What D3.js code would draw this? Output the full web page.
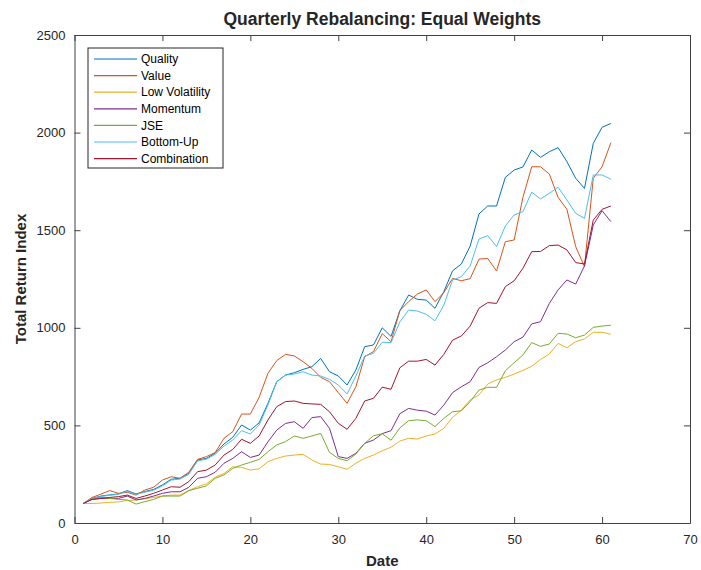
<!DOCTYPE html>
<html lang="en">
<head>
<meta charset="utf-8">
<title>Quarterly Rebalancing: Equal Weights</title>
<script src="https://d3js.org/d3.v7.min.js"></script>
<style>
  body { margin: 0; background: #fff; }
  svg { font-family: "Liberation Sans", Arial, sans-serif; }
  .tick text { font-size: 13px; fill: #262626; }
  .lbl { font-weight: bold; fill: #262626; }
</style>
</head>
<body>
<svg width="701" height="570"></svg>
<script>
// series values, one per quarter (x = 1..61)
var quality = [100,126,138,144,149,166,149,161,172,195,224,229,254,323,331,357,405,439,502,476,
  513,613,724,758,770,787,801,843,775,753,707,784,903,912,1000,956,1087,1168,1146,1142,
  1100,1185,1292,1327,1419,1583,1624,1624,1771,1808,1824,1911,1873,1902,1923,1851,1766,1714,1945,2027,2047];
var value = [100,131,148,166,152,157,143,169,183,220,237,229,260,326,340,361,434,468,558,558,
  644,767,832,864,856,826,792,746,724,668,613,698,852,878,970,929,1088,1134,1173,1194,
  1134,1180,1253,1241,1252,1352,1355,1291,1441,1450,1668,1825,1825,1788,1668,1607,1416,1313,1766,1825,1948];
var lowVol = [100,100,102,106,108,115,118,124,131,138,143,143,166,186,200,235,254,288,285,271,
  278,314,331,343,348,352,323,302,300,288,275,306,331,348,370,388,420,434,430,446,
  456,485,541,579,630,656,712,733,746,763,782,803,838,866,920,898,929,943,977,977,967];
var momentum = [100,121,126,126,126,138,118,126,138,152,160,160,183,229,237,260,306,331,365,336,
  348,416,476,510,519,485,540,545,485,340,331,357,408,425,458,473,560,587,578,573,
  553,604,668,698,724,797,821,852,886,929,952,1020,1031,1125,1194,1245,1224,1317,1527,1600,1544];
var jse = [100,126,131,126,121,118,97,109,121,138,138,138,166,178,190,229,246,280,297,311,
  326,365,400,417,446,434,446,459,362,331,319,353,408,447,457,424,487,524,528,524,
  494,536,570,575,622,681,695,695,780,821,861,924,905,917,972,968,949,963,1002,1009,1013];
var bottomUp = [100,124,136,142,147,163,146,158,168,190,220,225,250,318,327,352,394,425,473,456,
  502,605,724,758,763,775,758,753,736,707,661,753,855,869,926,924,1030,1091,1086,1069,
  1036,1116,1245,1262,1317,1455,1472,1416,1522,1578,1595,1695,1660,1689,1720,1655,1586,1561,1783,1783,1761];
var combination = [100,121,126,131,135,143,126,138,152,169,186,183,212,263,271,297,348,377,429,408,
  446,528,596,622,625,613,610,608,570,511,480,536,625,639,696,685,795,829,829,838,
  809,864,937,958,1009,1100,1129,1125,1211,1241,1305,1390,1391,1421,1424,1399,1334,1327,1552,1607,1624];

var names = ["Quality","Value","Low Volatility","Momentum","JSE","Bottom-Up","Combination"];
var colors = ["#0072BD","#D95319","#EDB120","#7E2F8E","#77AC30","#4DBEEE","#A2142F"];
var allSeries = [quality, value, lowVol, momentum, jse, bottomUp, combination];
var xTicks = [0,10,20,30,40,50,60,70];
var yTicks = [0,500,1000,1500,2000,2500];

var svg = d3.select("svg");
var pLeft = 74.5, pRight = 690, pTop = 35, pBottom = 523;

var x = d3.scaleLinear().domain([0, 70]).range([pLeft, pRight]);
var y = d3.scaleLinear().domain([0, 2500]).range([pBottom, pTop]);

var axisColor = "#404040";

// axes with inward ticks, box on
var gx = svg.append("g").attr("transform", `translate(0,${pBottom})`)
  .call(d3.axisBottom(x).tickValues(xTicks).tickSizeInner(-6).tickSizeOuter(0).tickPadding(9));
var gy = svg.append("g").attr("transform", `translate(${pLeft},0)`)
  .call(d3.axisLeft(y).tickValues(yTicks).tickSizeInner(-6).tickSizeOuter(0).tickPadding(9)
    .tickFormat(d3.format("d")));
var gxt = svg.append("g").attr("transform", `translate(0,${pTop})`)
  .call(d3.axisTop(x).tickValues(xTicks).tickSizeInner(-6).tickSizeOuter(0).tickFormat(""));
var gyr = svg.append("g").attr("transform", `translate(${pRight},0)`)
  .call(d3.axisRight(y).tickValues(yTicks).tickSizeInner(-6).tickSizeOuter(0).tickFormat(""));
[gx, gy, gxt, gyr].forEach(function(g) {
  g.select(".domain").attr("stroke", axisColor).attr("stroke-width", 1);
  g.selectAll(".tick line").attr("stroke", axisColor);
  g.selectAll(".tick text").attr("font-family", "Liberation Sans, Arial, sans-serif");
});
gx.selectAll(".tick text").attr("dy", "0.9em");

var line = d3.line()
  .x(function(d, i) { return x(i + 1); })
  .y(function(d) { return y(d); });

svg.append("g").selectAll("path")
  .data(allSeries)
  .join("path")
  .attr("fill", "none")
  .attr("stroke", function(d, i) { return colors[i]; })
  .attr("stroke-width", 1)
  .attr("d", line);

// title and labels
svg.append("text").attr("class", "lbl")
  .attr("x", (pLeft + pRight) / 2).attr("y", 25)
  .attr("text-anchor", "middle").attr("font-size", "17.5px")
  .text("Quarterly Rebalancing: Equal Weights");
svg.append("text").attr("class", "lbl")
  .attr("x", (pLeft + pRight) / 2).attr("y", 566)
  .attr("text-anchor", "middle").attr("font-size", "15px")
  .text("Date");
svg.append("text").attr("class", "lbl")
  .attr("transform", `translate(26,${(pTop + pBottom) / 2}) rotate(-90)`)
  .attr("text-anchor", "middle").attr("font-size", "15px")
  .text("Total Return Index");

// legend
var lg = svg.append("g").attr("transform", "translate(88,48)");
lg.append("rect").attr("width", 135).attr("height", 120)
  .attr("fill", "#fff").attr("stroke", "#262626").attr("stroke-width", 1);
var rows = lg.selectAll("g.row").data(names).join("g")
  .attr("class", "row")
  .attr("transform", function(d, i) { return `translate(0,${11 + i * 16.6})`; });
rows.append("line").attr("x1", 6).attr("x2", 49)
  .attr("stroke", function(d, i) { return colors[i]; }).attr("stroke-width", 1.2);
rows.append("text").attr("x", 53).attr("dy", "0.35em")
  .attr("font-size", "12px").attr("fill", "#000")
  .text(function(d) { return d; });
</script>
</body>
</html>
